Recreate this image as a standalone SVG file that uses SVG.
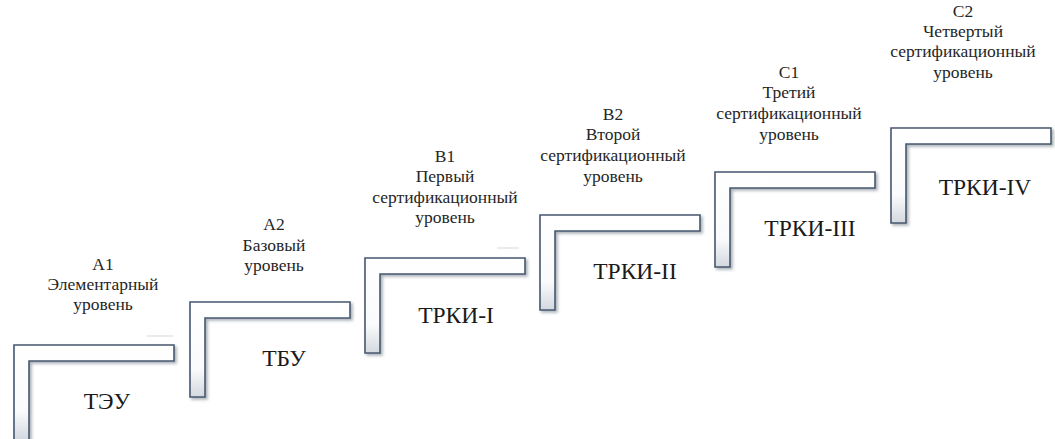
<svg xmlns="http://www.w3.org/2000/svg" width="1055" height="439" viewBox="0 0 1055 439">
<defs>
<linearGradient id="g" x1="0" y1="0" x2="0" y2="1">
<stop offset="0" stop-color="#ffffff"/>
<stop offset="0.7" stop-color="#fafbfc"/>
<stop offset="1" stop-color="#d3d8df"/>
</linearGradient>
<filter id="sh" x="-10%" y="-10%" width="130%" height="130%">
<feDropShadow dx="2" dy="2" stdDeviation="1.4" flood-color="#6b7280" flood-opacity="0.55"/>
</filter>
<path id="L" d="M0,0 H160 V16 H15 V95 H0 Z" fill="url(#g)" stroke="#46586f" stroke-width="1.6" filter="url(#sh)"/>
</defs>
<g id="connectors"/>
<g id="step-A1">
<use href="#L" x="14" y="345"/>
<line x1="147" y1="336" x2="173" y2="336" stroke="#e2e4e8" stroke-width="1.5"/>
<g font-size="17.5" fill="#262626" text-anchor="middle">
<text font-family="Liberation Serif" x="103" y="270">A1</text>
<text font-family="Liberation Serif" x="103" y="290">Элементарный</text>
<text font-family="Liberation Serif" x="103" y="310">уровень</text>
</g>
<text font-family="Liberation Serif" font-size="23.5" fill="#1a1a1a" text-anchor="middle" x="107" y="409">ТЭУ</text>
</g>
<g id="step-A2">
<use href="#L" x="190" y="302"/>
<g font-size="17.5" fill="#262626" text-anchor="middle">
<text font-family="Liberation Serif" x="274" y="230">A2</text>
<text font-family="Liberation Serif" x="274" y="251">Базовый</text>
<text font-family="Liberation Serif" x="274" y="271">уровень</text>
</g>
<text font-family="Liberation Serif" font-size="23.5" fill="#1a1a1a" text-anchor="middle" x="284" y="366">ТБУ</text>
</g>
<g id="step-B1">
<use href="#L" x="365" y="258"/>
<line x1="497" y1="248" x2="519" y2="248" stroke="#e2e4e8" stroke-width="1.5"/>
<g font-size="17.5" fill="#262626" text-anchor="middle">
<text font-family="Liberation Serif" x="445" y="162">B1</text>
<text font-family="Liberation Serif" x="445" y="182">Первый</text>
<text font-family="Liberation Serif" x="445" y="203">сертификационный</text>
<text font-family="Liberation Serif" x="445" y="223">уровень</text>
</g>
<text font-family="Liberation Serif" font-size="23.5" fill="#1a1a1a" text-anchor="middle" x="456" y="323">ТРКИ-I</text>
</g>
<g id="step-B2">
<use href="#L" x="540" y="215"/>
<g font-size="17.5" fill="#262626" text-anchor="middle">
<text font-family="Liberation Serif" x="613" y="120">B2</text>
<text font-family="Liberation Serif" x="613" y="140">Второй</text>
<text font-family="Liberation Serif" x="613" y="161">сертификационный</text>
<text font-family="Liberation Serif" x="613" y="182">уровень</text>
</g>
<text font-family="Liberation Serif" font-size="23.5" fill="#1a1a1a" text-anchor="middle" x="635" y="279">ТРКИ-II</text>
</g>
<g id="step-C1">
<use href="#L" x="715" y="172"/>
<g font-size="17.5" fill="#262626" text-anchor="middle">
<text font-family="Liberation Serif" x="789" y="78">C1</text>
<text font-family="Liberation Serif" x="789" y="98">Третий</text>
<text font-family="Liberation Serif" x="789" y="119">сертификационный</text>
<text font-family="Liberation Serif" x="789" y="140">уровень</text>
</g>
<text font-family="Liberation Serif" font-size="23.5" fill="#1a1a1a" text-anchor="middle" x="810" y="236">ТРКИ-III</text>
</g>
<g id="step-C2">
<use href="#L" x="891" y="128"/>
<g font-size="17.5" fill="#262626" text-anchor="middle">
<text font-family="Liberation Serif" x="963" y="17">C2</text>
<text font-family="Liberation Serif" x="963" y="37">Четвертый</text>
<text font-family="Liberation Serif" x="963" y="57">сертификационный</text>
<text font-family="Liberation Serif" x="963" y="78">уровень</text>
</g>
<text font-family="Liberation Serif" font-size="23.5" fill="#1a1a1a" text-anchor="middle" x="985" y="195">ТРКИ-IV</text>
</g>
</svg>
